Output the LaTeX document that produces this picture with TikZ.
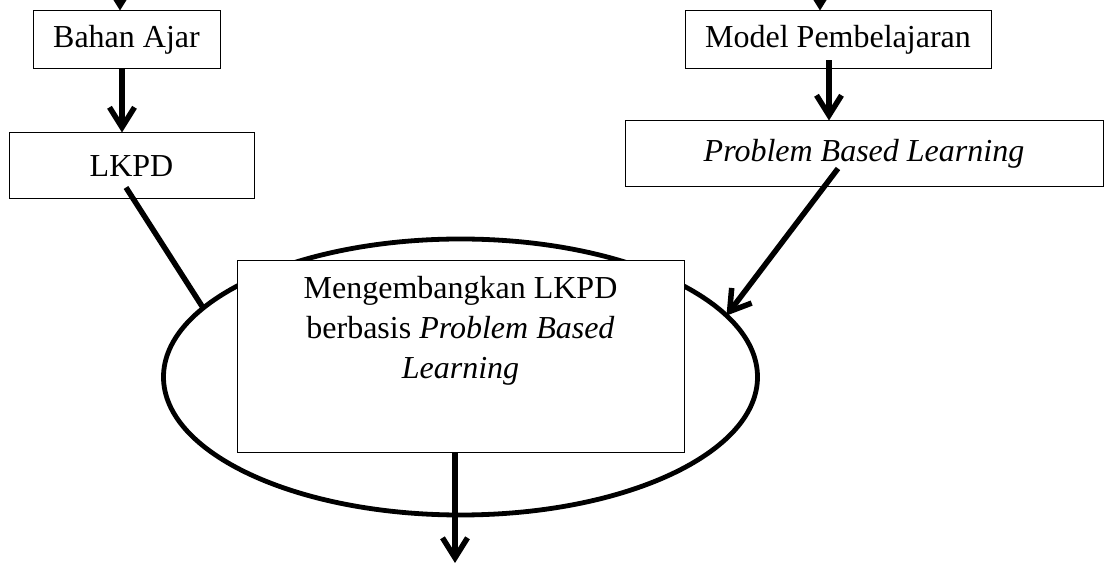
\documentclass[tikz,border=0pt]{standalone}
\usepackage{fontspec}
\setmainfont{Liberation Serif}
\usetikzlibrary{arrows.meta,positioning,shapes.geometric}

\begin{document}
\begin{tikzpicture}[x=0.5pt,y=-0.5pt,font=\fontsize{16}{20}\selectfont]
	\useasboundingbox (0,0) rectangle (1107,565);
	\clip (0,0) rectangle (1107,565);

	\node (lingkaran) at (460.5,377) [draw,ellipse,line width=2.4pt,minimum width=297pt,minimum height=138pt,inner sep=0pt,outer sep=0pt] {};

	\begin{scope}[every node/.style={rectangle,draw,line width=0.5pt,fill=white,inner sep=0pt}]
		\node (bahan) at (126.5,40) [minimum width=93.5pt,minimum height=29pt] {Bahan Ajar};
		\node (lkpd) at (131.5,166) [minimum width=122.5pt,minimum height=33pt] {LKPD};
		\node (model) at (838,40) [minimum width=153pt,minimum height=29pt] {Model Pembelajaran};
		\node (pbl) at (864,154) [minimum width=239pt,minimum height=33pt] {\textit{Problem Based Learning}};
		\node (kotak) at (460.5,357) [minimum width=223.5pt,minimum height=96pt] {};
	\end{scope}
	\node (isi) [below=7.6pt of kotak.north,align=center,inner sep=0pt] {Mengembangkan LKPD\\berbasis \textit{Problem Based}\\\textit{Learning}};

	\coordinate (atas1) at (120,-30);
	\coordinate (atas2) at (820,-30);
	\coordinate (bawah) at (455,563);

	\begin{scope}[>={Straight Barb[length=10pt,width=12.5pt]},
		every edge/.style={draw,line width=2.75pt}]
		\path [->] (atas1) edge ([xshift=-3.25pt]bahan.north);
		\path [->] (atas2) edge ([xshift=-9pt]model.north);
		\path [->] ([xshift=-2.25pt]bahan.south) edge ([xshift=-4.75pt]lkpd.north);
		\path [->] ([xshift=-4.5pt,yshift=4.5pt]model.south) edge ([xshift=-17.5pt]pbl.north);
		\path [-] ([xshift=-2.75pt,yshift=6pt]lkpd.south) edge (lingkaran.165);
		\path [->] ([xshift=-13pt,yshift=9.5pt]pbl.south) edge (lingkaran.13);
		\path [->] ([xshift=-2.75pt]kotak.south) edge (bawah);
	\end{scope}
\end{tikzpicture}
\end{document}
